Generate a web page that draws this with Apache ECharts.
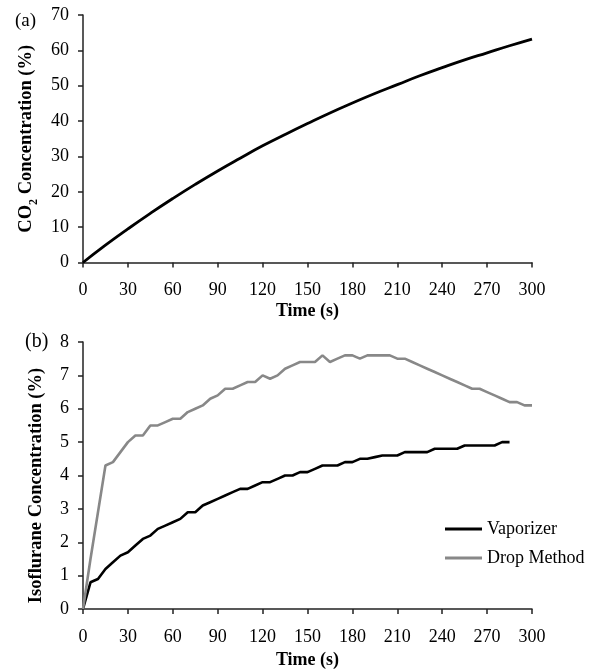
<!DOCTYPE html>
<html>
<head>
<meta charset="utf-8">
<script src="https://cdn.jsdelivr.net/npm/echarts@6/dist/echarts.min.js"></script>
<style>
html,body{margin:0;padding:0;background:#fff;}
#chart{width:597px;height:671px;}
</style>
</head>
<body>
<div id="chart"></div>
<script>
// ---- Data ----
var xTicks = [0, 30, 60, 90, 120, 150, 180, 210, 240, 270, 300];

// Panel (a): CO2 concentration vs time
var timeCO2 = [0, 15, 30, 45, 60, 75, 90, 105, 120, 135, 150, 165, 180, 195, 210, 225, 240, 255, 270, 285, 300];
var co2Values = [0, 4.9, 9.5, 13.9, 18.1, 22.1, 25.9, 29.5, 33.0, 36.2, 39.3, 42.3, 45.1, 47.8, 50.3, 52.8, 55.1, 57.3, 59.3, 61.3, 63.2];

// Panel (b): isoflurane concentration vs time
var timeVaporizer = [0, 5, 10, 15, 20, 25, 30, 35, 40, 45, 50, 55, 60, 65, 70, 75, 80, 85, 90, 95, 100,
  105, 110, 115, 120, 125, 130, 135, 140, 145, 150, 155, 160, 165, 170, 175, 180, 185, 190, 195, 200,
  205, 210, 215, 220, 225, 230, 235, 240, 245, 250, 255, 260, 265, 270, 275, 280, 285];
var vaporizer = [0, 0.8, 0.9, 1.2, 1.4, 1.6, 1.7, 1.9, 2.1, 2.2, 2.4, 2.5, 2.6, 2.7, 2.9, 2.9, 3.1, 3.2, 3.3, 3.4, 3.5,
  3.6, 3.6, 3.7, 3.8, 3.8, 3.9, 4.0, 4.0, 4.1, 4.1, 4.2, 4.3, 4.3, 4.3, 4.4, 4.4, 4.5, 4.5, 4.55, 4.6,
  4.6, 4.6, 4.7, 4.7, 4.7, 4.7, 4.8, 4.8, 4.8, 4.8, 4.9, 4.9, 4.9, 4.9, 4.9, 5.0, 5.0];

var timeDrop = [0, 5, 10, 15, 20, 25, 30, 35, 40, 45, 50, 55, 60, 65, 70, 75, 80, 85, 90, 95, 100,
  105, 110, 115, 120, 125, 130, 135, 140, 145, 150, 155, 160, 165, 170, 175, 180, 185, 190, 195, 200,
  205, 210, 215, 220, 225, 230, 235, 240, 245, 250, 255, 260, 265, 270, 275, 280, 285, 290, 295, 300];
var dropMethod = [0, 1.5, 2.9, 4.3, 4.4, 4.7, 5.0, 5.2, 5.2, 5.5, 5.5, 5.6, 5.7, 5.7, 5.9, 6.0, 6.1, 6.3, 6.4, 6.6, 6.6,
  6.7, 6.8, 6.8, 7.0, 6.9, 7.0, 7.2, 7.3, 7.4, 7.4, 7.4, 7.6, 7.4, 7.5, 7.6, 7.6, 7.5, 7.6, 7.6, 7.6,
  7.6, 7.5, 7.5, 7.4, 7.3, 7.2, 7.1, 7.0, 6.9, 6.8, 6.7, 6.6, 6.6, 6.5, 6.4, 6.3, 6.2, 6.2, 6.1, 6.1];

function pairs(xs, ys) {
  var out = [];
  for (var i = 0; i < xs.length; i++) out.push([xs[i], ys[i]]);
  return out;
}

var FONT = '"Liberation Serif", "Times New Roman", serif';
var axisColor = '#222';

function xAxisCfg(gridIndex, nameGap) {
  return {
    type: 'value', gridIndex: gridIndex, min: 0, max: 300, interval: 30,
    name: 'Time (s)', nameLocation: 'middle', nameGap: nameGap,
    nameTextStyle: { fontFamily: FONT, fontWeight: 'bold', fontSize: 18, color: '#000' },
    axisLine: { show: true, lineStyle: { color: axisColor, width: 1.5 } },
    axisTick: { show: true, inside: false, length: 5, lineStyle: { color: axisColor, width: 1.5 } },
    axisLabel: { fontFamily: FONT, fontSize: 18, color: '#000', margin: 19,
      formatter: function (v) { return xTicks.indexOf(v) >= 0 ? String(v) : ''; } },
    splitLine: { show: false }
  };
}

function yAxisCfg(gridIndex, max, interval, name, nameGap, rich, namePadding) {
  var cfg = {
    type: 'value', gridIndex: gridIndex, min: 0, max: max, interval: interval,
    name: name, nameLocation: 'middle', nameGap: nameGap,
    nameTextStyle: { fontFamily: FONT, fontWeight: 'bold', fontSize: 18.5, color: '#000' },
    axisLine: { show: true, lineStyle: { color: axisColor, width: 1.5 } },
    axisTick: { show: true, inside: false, length: 5, lineStyle: { color: axisColor, width: 1.5 } },
    axisLabel: { fontFamily: FONT, fontSize: 18, color: '#000', margin: 14 },
    splitLine: { show: false }
  };
  if (rich) cfg.nameTextStyle.rich = rich;
  if (namePadding) cfg.nameTextStyle.padding = namePadding;
  return cfg;
}

var chart = echarts.init(document.getElementById('chart'), null, { renderer: 'canvas' });

chart.setOption({
  backgroundColor: '#fff',
  animation: false,
  textStyle: { fontFamily: FONT },
  grid: [
    { left: 83, right: 65, top: 15, height: 247.5, containLabel: false },
    { left: 83, right: 65, top: 342, height: 267, containLabel: false }
  ],
  xAxis: [xAxisCfg(0, 40), xAxisCfg(1, 42)],
  yAxis: [
    yAxisCfg(0, 70, 10, '{m|CO}{s|2}{m| Concentration (%)}', 43, {
      m: { fontFamily: FONT, fontWeight: 'bold', fontSize: 18.5, color: '#000', verticalAlign: 'bottom', padding: [0, 0, 4, 0] },
      s: { fontFamily: FONT, fontWeight: 'bold', fontSize: 12, color: '#000', verticalAlign: 'bottom' }
    }, null),
    yAxisCfg(1, 8, 1, 'Isoflurane Concentration (%)', 37, null, [0, 20, 0, 0])
  ],
  legend: {
    orient: 'vertical', left: 440, top: 515,
    itemWidth: 37, itemHeight: 3, itemGap: 11,
    icon: 'rect',
    textStyle: { fontFamily: FONT, fontSize: 18, color: '#000' },
    data: ['Vaporizer', 'Drop Method']
  },
  graphic: [
    { type: 'text', left: 15, top: 12, style: { text: '(a)', font: '19px ' + FONT, fill: '#000' } },
    { type: 'text', left: 25, top: 332, style: { text: '(b)', font: '20px ' + FONT, fill: '#000' } }
  ],
  series: [
    {
      name: 'CO2', type: 'line', xAxisIndex: 0, yAxisIndex: 0,
      data: pairs(timeCO2, co2Values), smooth: true, showSymbol: false,
      lineStyle: { color: '#000', width: 2.8 }, itemStyle: { color: '#000' }
    },
    {
      name: 'Vaporizer', type: 'line', xAxisIndex: 1, yAxisIndex: 1,
      data: pairs(timeVaporizer, vaporizer), showSymbol: false,
      lineStyle: { color: '#000', width: 2.6 }, itemStyle: { color: '#000' }
    },
    {
      name: 'Drop Method', type: 'line', xAxisIndex: 1, yAxisIndex: 1,
      data: pairs(timeDrop, dropMethod), showSymbol: false,
      lineStyle: { color: '#888', width: 2.6 }, itemStyle: { color: '#888' }
    }
  ]
});
</script>
</body>
</html>
